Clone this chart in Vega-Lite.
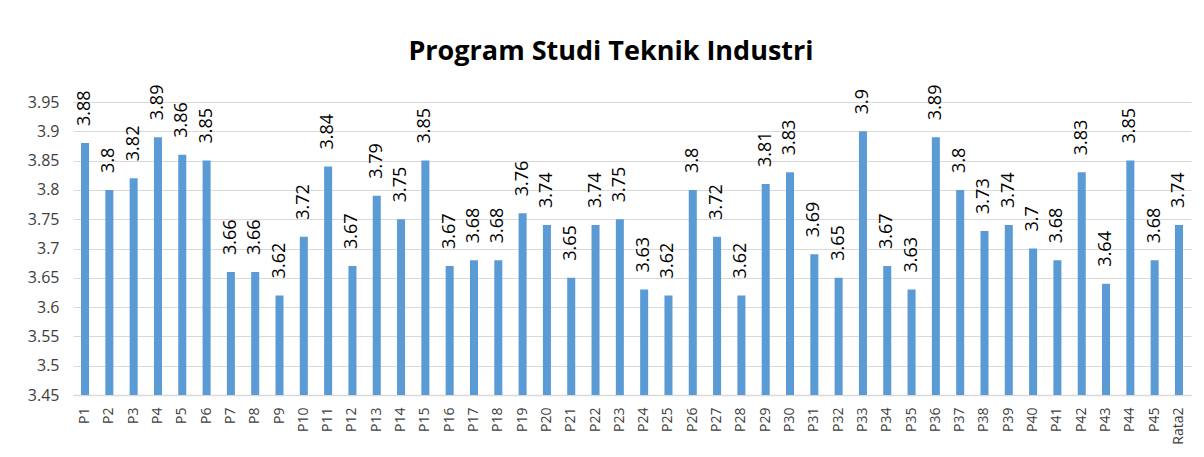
{
  "$schema": "https://vega.github.io/schema/vega-lite/v6.json",
  "autosize": "none",
  "width": 1118,
  "height": 293,
  "padding": {"left": 73, "top": 102, "right": 13, "bottom": 62},
  "background": "white",
  "title": {
    "text": "Program Studi Teknik Industri",
    "font": "Open Sans",
    "fontSize": 27,
    "fontWeight": "bold",
    "color": "#000000",
    "anchor": "middle",
    "frame": "group",
    "offset": 19,
    "dx": -21
  },
  "data": {
    "values": [
      {"item": "P1", "value": 3.88},
      {"item": "P2", "value": 3.8},
      {"item": "P3", "value": 3.82},
      {"item": "P4", "value": 3.89},
      {"item": "P5", "value": 3.86},
      {"item": "P6", "value": 3.85},
      {"item": "P7", "value": 3.66},
      {"item": "P8", "value": 3.66},
      {"item": "P9", "value": 3.62},
      {"item": "P10", "value": 3.72},
      {"item": "P11", "value": 3.84},
      {"item": "P12", "value": 3.67},
      {"item": "P13", "value": 3.79},
      {"item": "P14", "value": 3.75},
      {"item": "P15", "value": 3.85},
      {"item": "P16", "value": 3.67},
      {"item": "P17", "value": 3.68},
      {"item": "P18", "value": 3.68},
      {"item": "P19", "value": 3.76},
      {"item": "P20", "value": 3.74},
      {"item": "P21", "value": 3.65},
      {"item": "P22", "value": 3.74},
      {"item": "P23", "value": 3.75},
      {"item": "P24", "value": 3.63},
      {"item": "P25", "value": 3.62},
      {"item": "P26", "value": 3.8},
      {"item": "P27", "value": 3.72},
      {"item": "P28", "value": 3.62},
      {"item": "P29", "value": 3.81},
      {"item": "P30", "value": 3.83},
      {"item": "P31", "value": 3.69},
      {"item": "P32", "value": 3.65},
      {"item": "P33", "value": 3.9},
      {"item": "P34", "value": 3.67},
      {"item": "P35", "value": 3.63},
      {"item": "P36", "value": 3.89},
      {"item": "P37", "value": 3.8},
      {"item": "P38", "value": 3.73},
      {"item": "P39", "value": 3.74},
      {"item": "P40", "value": 3.7},
      {"item": "P41", "value": 3.68},
      {"item": "P42", "value": 3.83},
      {"item": "P43", "value": 3.64},
      {"item": "P44", "value": 3.85},
      {"item": "P45", "value": 3.68},
      {"item": "Rata2", "value": 3.74}
    ]
  },
  "encoding": {
    "x": {
      "field": "item",
      "type": "nominal",
      "sort": null,
      "title": null,
      "scale": {"paddingInner": 0.67, "paddingOuter": 0.33},
      "axis": {
        "labelAngle": -90,
        "labelAlign": "right",
        "labelBaseline": "middle",
        "labelFont": "Open Sans",
        "labelFontSize": 14,
        "labelColor": "#404040",
        "labelPadding": 12,
        "ticks": false,
        "domainColor": "#d9d9d9",
        "domainWidth": 1.5,
        "grid": false
      }
    },
    "y": {
      "field": "value",
      "type": "quantitative",
      "title": null,
      "scale": {"domain": [3.45, 3.95], "zero": false, "nice": false},
      "axis": {
        "values": [3.45, 3.5, 3.55, 3.6, 3.65, 3.7, 3.75, 3.8, 3.85, 3.9, 3.95],
        "labelExpr": "datum.value",
        "labelFont": "Open Sans",
        "labelFontSize": 16,
        "labelColor": "#404040",
        "labelPadding": 14,
        "ticks": false,
        "domain": false,
        "grid": true,
        "gridColor": "#d9d9d9",
        "gridWidth": 1
      }
    }
  },
  "layer": [
    {
      "mark": {"type": "bar", "color": "#5b9bd5"},
      "encoding": {"y2": {"datum": 3.45}}
    },
    {
      "mark": {
        "type": "text",
        "angle": -90,
        "align": "left",
        "baseline": "middle",
        "dx": 17,
        "font": "Open Sans",
        "fontSize": 18,
        "color": "#000000"
      },
      "encoding": {
        "text": {"field": "value", "type": "quantitative"}
      }
    }
  ],
  "config": {"view": {"stroke": null}}
}
